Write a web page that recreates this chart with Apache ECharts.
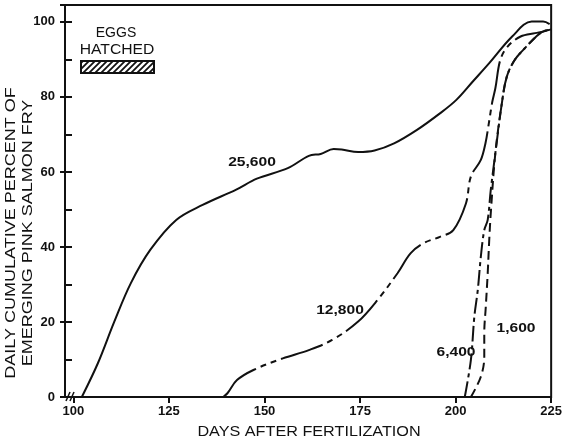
<!DOCTYPE html>
<html>
<head>
<meta charset="utf-8">
<script src="https://cdn.jsdelivr.net/npm/echarts@6/dist/echarts.min.js"></script>
<style>
  html, body { margin: 0; padding: 0; background: #fff; }
  #chart { width: 565px; height: 440px; }
</style>
</head>
<body>
<div id="chart"></div>
<script>
// Cumulative emergence (%) of pink salmon fry by days after fertilization,
// one curve per egg density.
const seriesNames = ['25,600', '12,800', '6,400', '1,600'];

const fry25600 = [
  [102.2, 0], [106.4, 9], [110.7, 20.1], [115.0, 30.3], [120.1, 39.2],
  [126.9, 47.2], [133.8, 51.2], [142.6, 55.3], [148.0, 58.2], [156.1, 61.0],
  [161.6, 64.3], [164.7, 64.8], [168.1, 66.1], [170.2, 66.0], [174.5, 65.3],
  [178.8, 65.7], [183.9, 67.6], [189.9, 71.2], [195.9, 75.6], [200.2, 79.2],
  [204.5, 84.1], [208.8, 89.0], [214.8, 96.1], [219.9, 100.1], [222.9, 100.1],
  [224.6, 99.4]
];

const fry12800 = [
  [139.2, 0], [140.3, 1.0], [142.8, 4.5], [147.1, 7.2], [154.8, 10.3],
  [161.6, 12.5], [167.7, 15.2], [174.5, 20.1], [179.6, 25.9], [184.8, 33.0],
  [188.2, 38.3], [191.6, 41.0], [195.9, 42.7], [199.4, 44.5], [202.7, 51.6],
  [204.0, 58.8], [206.6, 63.2], [207.8, 67.6], [208.7, 73.0], [209.6, 78.7],
  [210.4, 82.3], [211.7, 89.9], [213.6, 93.4], [217.0, 96.1], [220.8, 97.0],
  [222.9, 97.4], [225.0, 98.0]
];

const fry6400 = [
  [202.4, 0], [204.0, 9.9], [204.9, 21.4], [205.8, 28.5], [206.6, 37.4],
  [207.5, 44.5], [208.4, 47.2], [209.2, 55.2], [210.4, 65.0], [212.1, 78.3],
  [213.4, 85.4], [215.5, 89.9], [218.5, 93.4], [221.1, 96.1], [222.8, 97.4],
  [225.0, 98.0]
];

const fry1600 = [
  [204.0, 0], [206.6, 5.4], [207.5, 10.7], [207.5, 17.0], [207.9, 24.1],
  [208.4, 33.0], [208.8, 41.9], [209.2, 49.0], [210.4, 65.0], [212.1, 78.3],
  [213.4, 85.4], [215.5, 89.9], [218.5, 93.4], [221.1, 96.1], [222.8, 97.4],
  [225.0, 98.0]
];

const dayTicks = [100, 125, 150, 175, 200, 225];
const percentTicks = [0, 20, 40, 60, 80, 100];

const font = 'Liberation Sans';
const ink = '#111';

// diagonal hatch used for the "eggs hatched" key
const hatch = document.createElement('canvas');
hatch.width = 6; hatch.height = 6;
(function () {
  const c = hatch.getContext('2d');
  c.fillStyle = '#fff';
  c.fillRect(0, 0, 6, 6);
  c.strokeStyle = ink;
  c.lineWidth = 1.8;
  c.beginPath();
  c.moveTo(-1, 7); c.lineTo(7, -1);
  c.moveTo(-1, 1); c.lineTo(1, -1);
  c.moveTo(5, 7); c.lineTo(7, 5);
  c.stroke();
})();

function curve(name, data, dash) {
  return {
    name: name,
    type: 'line',
    data: data,
    smooth: 0.35,
    showSymbol: false,
    symbol: 'none',
    animation: false,
    lineStyle: { color: ink, width: 2, type: dash },
    z: 3
  };
}

// free text, stretched horizontally for the wide lettering
function note(text, x, y, size, stretch, weight, extra) {
  return Object.assign({
    type: 'text', x: x, y: y, scaleX: stretch,
    style: {
      text: text, font: (weight || 'normal') + ' ' + size + 'px "' + font + '"',
      fill: ink, align: 'center', verticalAlign: 'middle', lineHeight: 17
    }
  }, extra || {});
}

const chart = echarts.init(document.getElementById('chart'), null, { renderer: 'canvas' });

chart.setOption({
  backgroundColor: '#fff',
  animation: false,
  grid: {
    left: 65, right: 10, top: 5, bottom: 43,
    show: true, borderColor: ink, borderWidth: 2, backgroundColor: 'transparent'
  },
  xAxis: {
    type: 'value',
    min: 97.8,
    max: 225,
    axisLine: { show: true, lineStyle: { color: ink, width: 2 } },
    axisTick: { show: true, inside: false, length: 6, lineStyle: { color: ink, width: 2 }, customValues: dayTicks },
    axisLabel: { show: true, margin: 8, fontFamily: font, fontSize: 13, fontWeight: 'bold', color: ink, customValues: dayTicks },
    splitLine: { show: false }
  },
  yAxis: [
    {
      type: 'value',
      min: 0,
      max: 104.5,
      interval: 20,
      axisLine: { show: true, lineStyle: { color: ink, width: 2 } },
      axisTick: { show: true, inside: true, length: 7, lineStyle: { color: ink, width: 2 } },
      minorTick: { show: true, splitNumber: 2, length: 7, lineStyle: { color: ink, width: 2 } },
      axisLabel: {
        margin: 10, fontFamily: font, fontSize: 13, fontWeight: 'bold', color: ink,
        formatter: v => (percentTicks.indexOf(v) >= 0 ? String(v) : '')
      },
      splitLine: { show: false }
    },
    {
      type: 'value',
      position: 'left',
      min: 0,
      max: 104.5,
      interval: 20,
      axisLine: { show: false },
      axisTick: { show: true, inside: false, length: 5, lineStyle: { color: ink, width: 2 } },
      axisLabel: { show: false },
      splitLine: { show: false }
    }
  ],
  series: [
    curve(seriesNames[0], fry25600, 'solid'),
    curve(seriesNames[1], fry12800, [44, 5, 6, 5, 6, 5]),
    curve(seriesNames[2], fry6400, [16, 4, 4, 4]),
    curve(seriesNames[3], fry1600, [9, 5])
  ],
  graphic: [
    note('DAILY CUMULATIVE PERCENT OF\nEMERGING PINK SALMON FRY', 19, 233, 15, 1.2, 'normal', { rotation: Math.PI / 2 }),
    note('DAYS AFTER FERTILIZATION', 309, 432, 15, 1.08),
    note(seriesNames[0], 252, 162, 13, 1.2, 'bold'),
    note(seriesNames[1], 340, 310, 13, 1.2, 'bold'),
    note(seriesNames[2], 456, 352, 13, 1.2, 'bold'),
    note(seriesNames[3], 516, 328, 13, 1.2, 'bold'),
    note('EGGS', 116, 33, 14, 1.0),
    note('HATCHED', 117, 50, 14, 1.12),
    {
      type: 'rect', shape: { x: 81, y: 61, width: 73, height: 12 },
      style: { fill: { image: hatch, repeat: 'repeat' }, stroke: ink, lineWidth: 2 }
    },
    // axis break marks at the origin
    { type: 'line', shape: { x1: 66, y1: 401, x2: 70, y2: 392 }, style: { stroke: ink, lineWidth: 1.5 } },
    { type: 'line', shape: { x1: 70, y1: 401, x2: 74, y2: 392 }, style: { stroke: ink, lineWidth: 1.5 } }
  ]
});
</script>
</body>
</html>
